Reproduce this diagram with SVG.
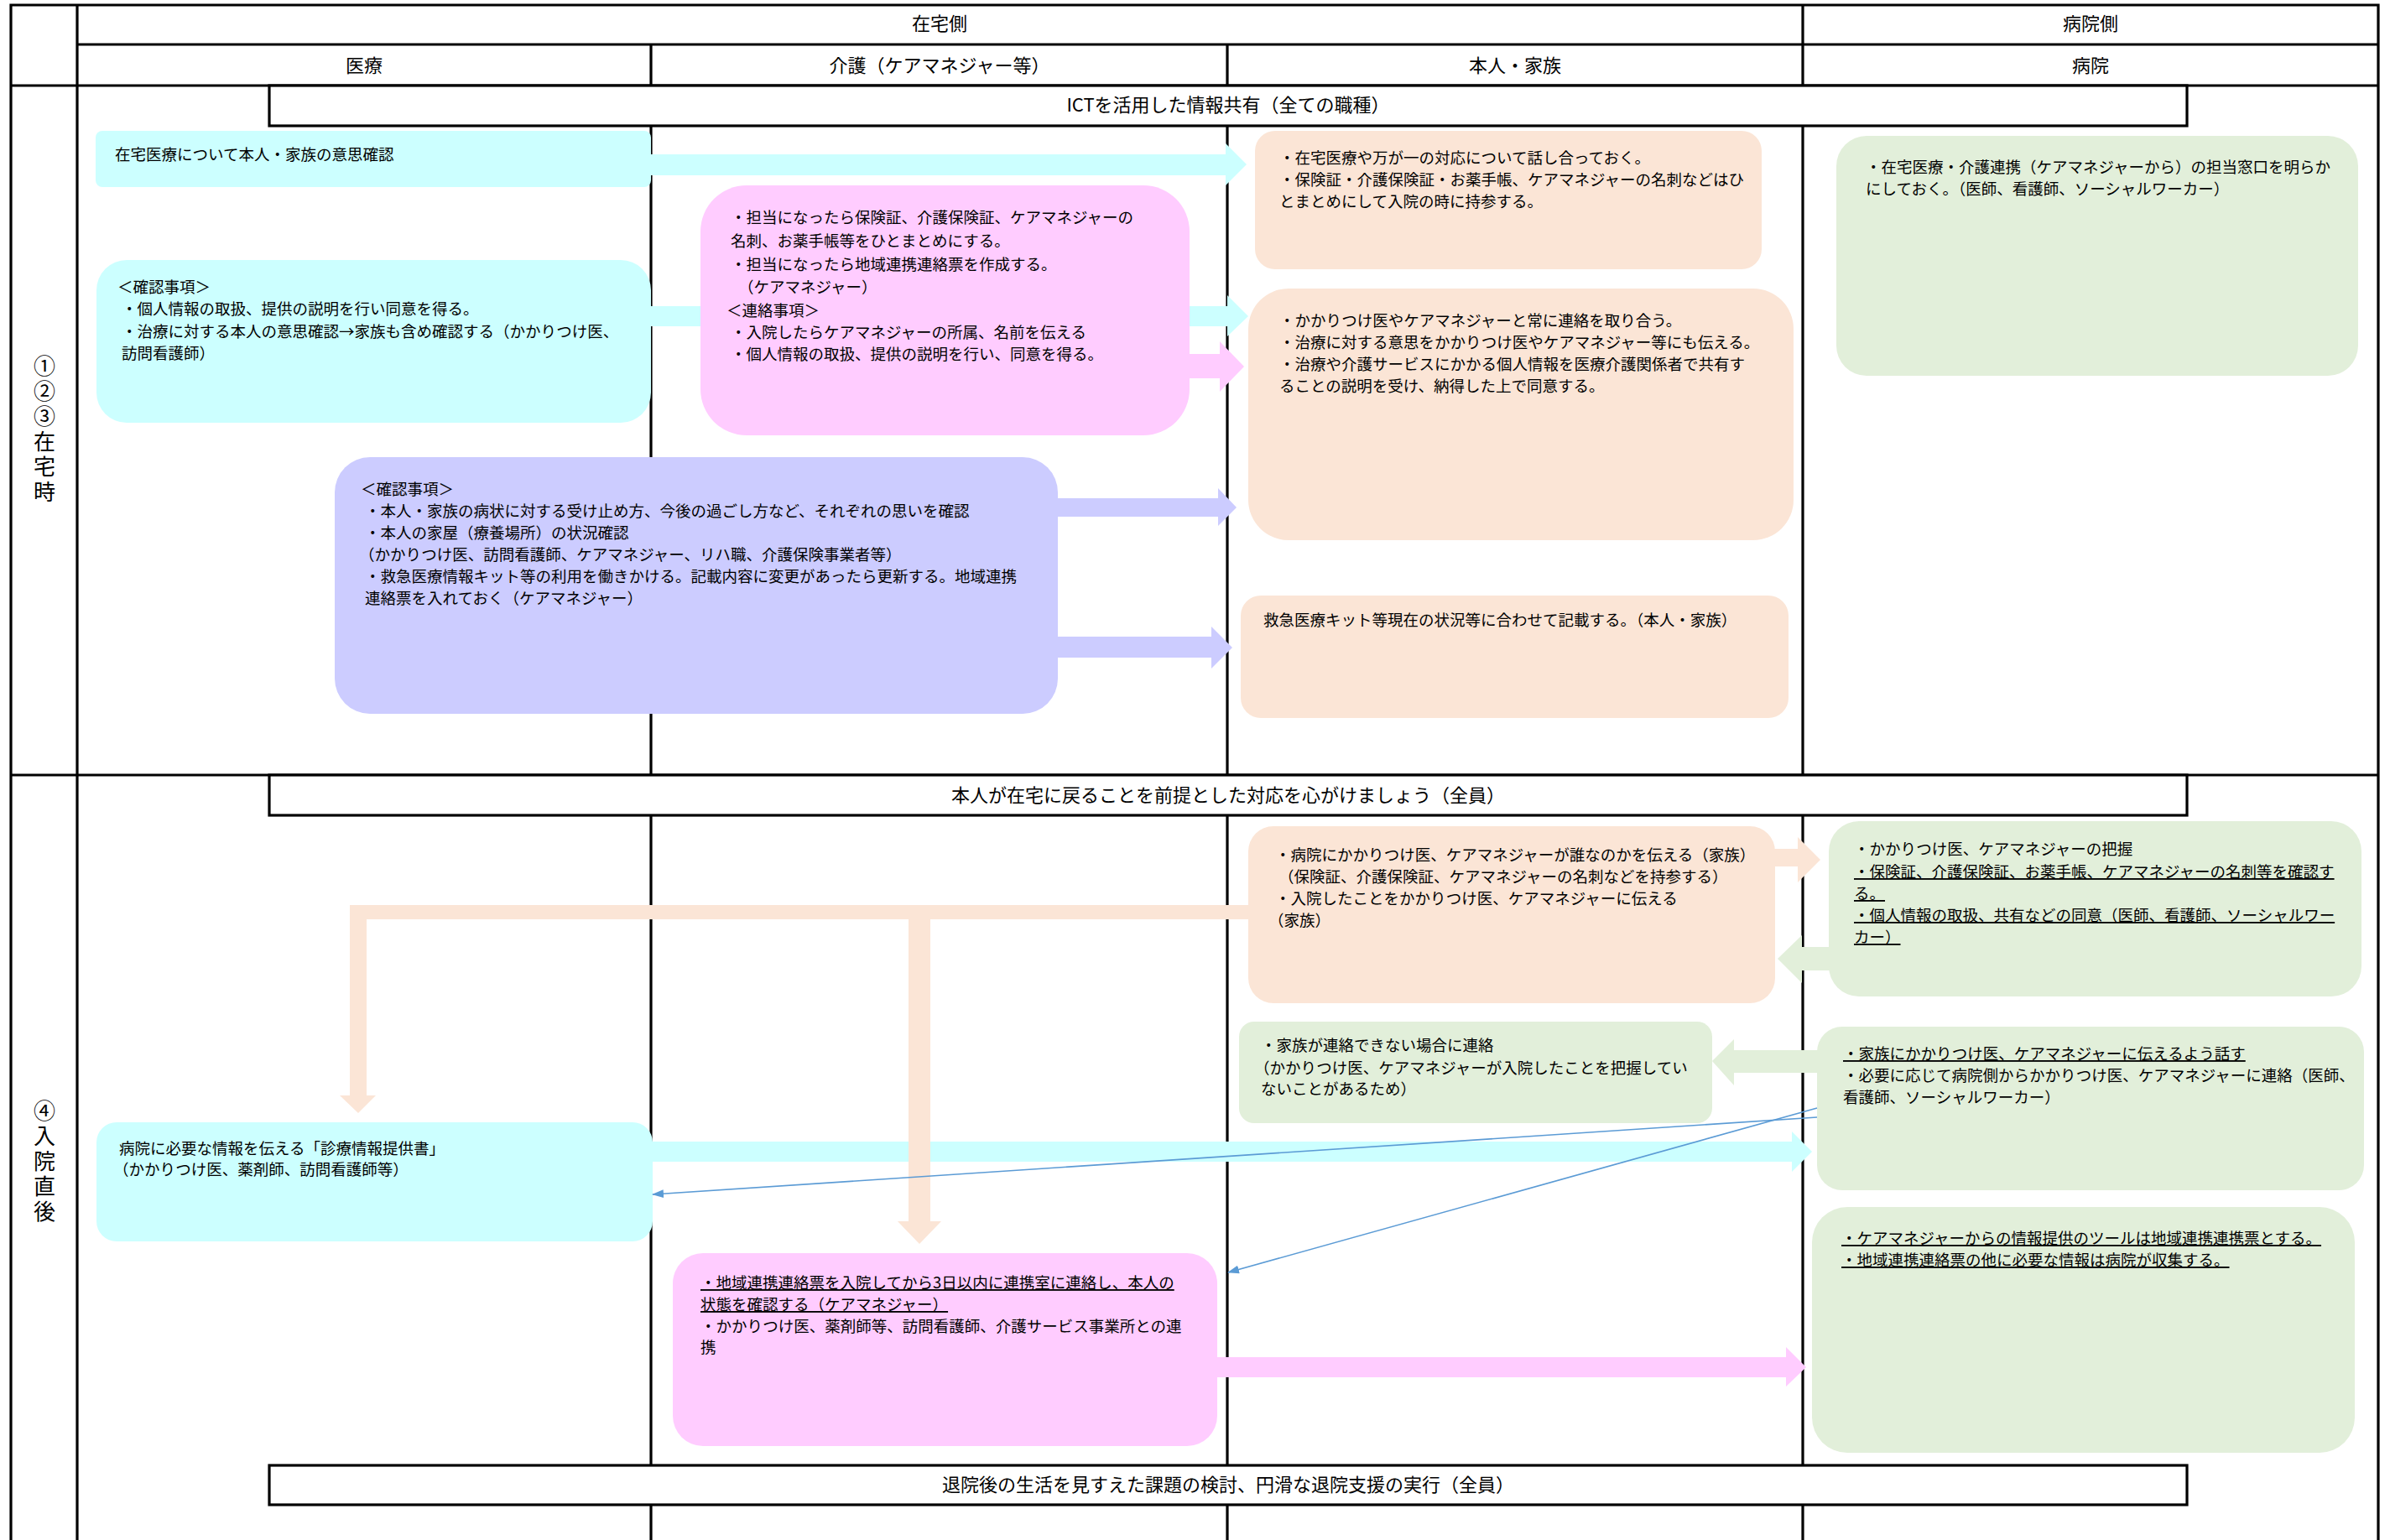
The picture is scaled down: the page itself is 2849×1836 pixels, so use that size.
<svg xmlns="http://www.w3.org/2000/svg" width="2849" height="1836" viewBox="0 0 2849 1836">
<style>
text{font-family:"Noto Sans CJK JP","Liberation Sans",sans-serif;fill:#000}
.t{font-size:18.5px}
.h{font-size:22px;text-anchor:middle}
.v{font-size:26px;writing-mode:vertical-rl;letter-spacing:4px}
.u{text-decoration:underline}
.ln{stroke:#000;stroke-width:3.2;fill:none}
.bn{fill:#fff;stroke:#000;stroke-width:3.2}
.cy{fill:#CCFFFF}
.pk{fill:#FFCCFF}
.pu{fill:#CCCCFF}
.pe{fill:#FBE5D6}
.gr{fill:#E2EFDA}
.thin{stroke:#5B9BD5;stroke-width:1.6;fill:none;marker-end:url(#ah)}
</style>
<defs>
<marker id="ah" markerUnits="userSpaceOnUse" viewBox="0 0 14 10" refX="13" refY="5" markerWidth="14" markerHeight="10" orient="auto">
<path d="M0,0 L14,5 L0,10 z" fill="#5B9BD5"/>
</marker>
</defs>
<rect width="2849" height="1836" fill="#fff"/>
<g id="grid">
<path class="ln" d="M13,1836 V6 H2835 V1836 M92,6 V1836 M92,53 H2835 M13,102 H2835 M13,924 H2835 M2149,6 V1836 M776,53 V1836 M1463,53 V1836"/>
<rect class="bn" x="321" y="102" width="2286" height="48"/>
<rect class="bn" x="321" y="924" width="2286" height="48"/>
<rect class="bn" x="321" y="1747" width="2286" height="47"/>
</g>
<g id="headers">
<text class="h" x="1120" y="36">在宅側</text>
<text class="h" x="2492" y="36">病院側</text>
<text class="h" x="434" y="86">医療</text>
<text class="h" x="1120" y="86">介護（ケアマネジャー等）</text>
<text class="h" x="1806" y="86">本人・家族</text>
<text class="h" x="2492" y="86">病院</text>
<text class="h" x="1464" y="133">ICTを活用した情報共有（全ての職種）</text>
<text class="h" x="1464" y="956">本人が在宅に戻ることを前提とした対応を心がけましょう（全員）</text>
<text class="h" x="1464" y="1778">退院後の生活を見すえた課題の検討、円滑な退院支援の実行（全員）</text>
</g>
<g id="labels">
<text class="v" x="53" y="423">①②③在宅時</text>
<text class="v" x="53" y="1311">④入院直後</text>
</g>
<g id="connectors">
<polygon class="cy" points="770,184 1461,184 1461,171 1486,196 1461,221 1461,209 770,209"/>
<polygon class="cy" points="770,365 1463,365 1463,352 1488,377 1463,401 1463,389 770,389"/>
<polygon class="pk" points="1410,422 1454,422 1454,407 1483,437 1454,467 1454,451 1410,451"/>
<polygon class="pu" points="1255,594 1452,594 1452,582 1474,605 1452,627 1452,616 1255,616"/>
<polygon class="pu" points="1255,759 1444,759 1444,747 1469,772 1444,797 1444,784 1255,784"/>
<polygon class="pe" points="2110,1012 2143,1012 2143,998 2170,1025 2143,1052 2143,1033 2110,1033"/>
<polygon class="gr" points="2185,1129 2148,1129 2148,1115 2119,1143 2148,1172 2148,1157 2185,1157"/>
<polygon class="gr" points="2170,1252 2067,1252 2067,1239 2041,1265 2067,1294 2067,1279 2170,1279"/>
<polygon class="cy" points="772,1361 2136,1361 2136,1349 2160,1373 2136,1397 2136,1385 772,1385"/>
<polygon class="pk" points="1445,1618 2129,1618 2129,1606 2153,1630 2129,1653 2129,1642 1445,1642"/>
<polygon class="pe" points="1492,1079 417,1079 417,1306 405,1306 427,1327 448,1306 437,1306 437,1096 1492,1096"/>
<polygon class="pe" points="1083,1090 1083,1456 1070,1456 1096,1483 1122,1456 1109,1456 1109,1090"/>
</g>
<g id="n-cyan1"><rect class="cy" x="114" y="156" width="662" height="67" rx="8"/>
<text class="t" x="137" y="191">在宅医療について本人・家族の意思確認</text></g>
<g id="n-cyan2"><rect class="cy" x="115" y="310" width="661" height="194" rx="36"/>
<text class="t" x="140" y="349">＜確認事項＞</text>
<text class="t" x="145" y="375">・個人情報の取扱、提供の説明を行い同意を得る。</text>
<text class="t" x="145" y="402">・治療に対する本人の意思確認→家族も含め確認する（かかりつけ医、</text>
<text class="t" x="145" y="428">訪問看護師）</text></g>
<g id="n-pink1"><rect class="pk" x="835" y="221" width="583" height="298" rx="55"/>
<text class="t" x="871" y="266">・担当になったら保険証、介護保険証、ケアマネジャーの</text>
<text class="t" x="871" y="294">名刺、お薬手帳等をひとまとめにする。</text>
<text class="t" x="871" y="322">・担当になったら地域連携連絡票を作成する。</text>
<text class="t" x="880" y="349">（ケアマネジャー）</text>
<text class="t" x="866" y="377">＜連絡事項＞</text>
<text class="t" x="871" y="403">・入院したらケアマネジャーの所属、名前を伝える</text>
<text class="t" x="871" y="429">・個人情報の取扱、提供の説明を行い、同意を得る。</text></g>
<g id="n-purple"><rect class="pu" x="399" y="545" width="862" height="306" rx="42"/>
<text class="t" x="430" y="590">＜確認事項＞</text>
<text class="t" x="435" y="616">・本人・家族の病状に対する受け止め方、今後の過ごし方など、それぞれの思いを確認</text>
<text class="t" x="435" y="642">・本人の家屋（療養場所）の状況確認</text>
<text class="t" x="428" y="668">（かかりつけ医、訪問看護師、ケアマネジャー、リハ職、介護保険事業者等）</text>
<text class="t" x="435" y="694">・救急医療情報キット等の利用を働きかける。記載内容に変更があったら更新する。地域連携</text>
<text class="t" x="435" y="720">連絡票を入れておく（ケアマネジャー）</text></g>
<g id="n-peach1"><rect class="pe" x="1496" y="156" width="604" height="165" rx="24"/>
<text class="t" x="1525" y="195">・在宅医療や万が一の対応について話し合っておく。</text>
<text class="t" x="1525" y="221">・保険証・介護保険証・お薬手帳、ケアマネジャーの名刺などはひ</text>
<text class="t" x="1525" y="247">とまとめにして入院の時に持参する。</text></g>
<g id="n-peach2"><rect class="pe" x="1488" y="344" width="650" height="300" rx="48"/>
<text class="t" x="1525" y="389">・かかりつけ医やケアマネジャーと常に連絡を取り合う。</text>
<text class="t" x="1525" y="415">・治療に対する意思をかかりつけ医やケアマネジャー等にも伝える。</text>
<text class="t" x="1525" y="441">・治療や介護サービスにかかる個人情報を医療介護関係者で共有す</text>
<text class="t" x="1525" y="467">ることの説明を受け、納得した上で同意する。</text></g>
<g id="n-peach3"><rect class="pe" x="1479" y="710" width="653" height="146" rx="24"/>
<text class="t" x="1506" y="746">救急医療キット等現在の状況等に合わせて記載する。（本人・家族）</text></g>
<g id="n-green1"><rect class="gr" x="2189" y="162" width="622" height="286" rx="36"/>
<text class="t" x="2224" y="206">・在宅医療・介護連携（ケアマネジャーから）の担当窓口を明らか</text>
<text class="t" x="2224" y="232">にしておく。（医師、看護師、ソーシャルワーカー）</text></g>
<g id="n-cyan3"><rect class="cy" x="115" y="1338" width="663" height="142" rx="24"/>
<text class="t" x="142" y="1376">病院に必要な情報を伝える「診療情報提供書」</text>
<text class="t" x="135" y="1401">（かかりつけ医、薬剤師、訪問看護師等）</text></g>
<g id="n-peach4"><rect class="pe" x="1488" y="985" width="628" height="211" rx="30"/>
<text class="t" x="1520" y="1026">・病院にかかりつけ医、ケアマネジャーが誰なのかを伝える（家族）</text>
<text class="t" x="1524" y="1052">（保険証、介護保険証、ケアマネジャーの名刺などを持参する）</text>
<text class="t" x="1520" y="1078">・入院したことをかかりつけ医、ケアマネジャーに伝える</text>
<text class="t" x="1512" y="1104">（家族）</text></g>
<g id="n-green2"><rect class="gr" x="1477" y="1218" width="564" height="121" rx="18"/>
<text class="t" x="1503" y="1253">・家族が連絡できない場合に連絡</text>
<text class="t" x="1495" y="1280">（かかりつけ医、ケアマネジャーが入院したことを把握してい</text>
<text class="t" x="1503" y="1305">ないことがあるため）</text></g>
<g id="n-green3"><rect class="gr" x="2180" y="979" width="635" height="209" rx="36"/>
<text class="t" x="2210" y="1019">・かかりつけ医、ケアマネジャーの把握</text>
<text class="t u" x="2210" y="1046">・保険証、介護保険証、お薬手帳、ケアマネジャーの名刺等を確認す</text>
<text class="t u" x="2210" y="1072">る。</text>
<text class="t u" x="2210" y="1098">・個人情報の取扱、共有などの同意（医師、看護師、ソーシャルワー</text>
<text class="t u" x="2210" y="1124">カー）</text></g>
<g id="n-green4"><rect class="gr" x="2166" y="1224" width="652" height="195" rx="30"/>
<text class="t u" x="2197" y="1263">・家族にかかりつけ医、ケアマネジャーに伝えるよう話す</text>
<text class="t" x="2197" y="1289">・必要に応じて病院側からかかりつけ医、ケアマネジャーに連絡（医師、</text>
<text class="t" x="2197" y="1315">看護師、ソーシャルワーカー）</text></g>
<g id="n-green5"><rect class="gr" x="2160" y="1439" width="647" height="293" rx="42"/>
<text class="t u" x="2195" y="1483">・ケアマネジャーからの情報提供のツールは地域連携連携票とする。</text>
<text class="t u" x="2195" y="1509">・地域連携連絡票の他に必要な情報は病院が収集する。</text></g>
<g id="n-pink2"><rect class="pk" x="802" y="1494" width="649" height="230" rx="36"/>
<text class="t u" x="835" y="1536">・地域連携連絡票を入院してから3日以内に連携室に連絡し、本人の</text>
<text class="t u" x="835" y="1562">状態を確認する（ケアマネジャー）</text>
<text class="t" x="835" y="1588">・かかりつけ医、薬剤師等、訪問看護師、介護サービス事業所との連</text>
<text class="t" x="835" y="1613">携</text></g>
<g id="thin-connectors">
<line class="thin" x1="2166" y1="1332" x2="778" y2="1424"/>
<line class="thin" x1="2166" y1="1321" x2="1464" y2="1517"/>
</g>
</svg>
